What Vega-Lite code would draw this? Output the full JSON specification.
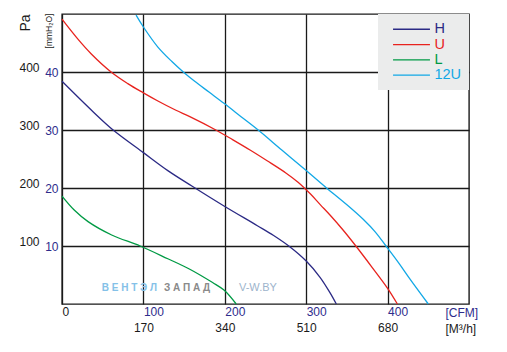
{
  "$schema": "https://vega.github.io/schema/vega-lite/v6.json",
  "width": 407,
  "height": 290,
  "autosize": {"type": "none"},
  "padding": {"left": 62, "top": 14, "right": 38, "bottom": 48},
  "background": "white",
  "config": {
    "font": "Liberation Sans",
    "view": {"stroke": "#1a1a1a", "strokeWidth": 1.4}
  },
  "datasets": {
    "curves": [
      {"model": "H", "cfm": 0, "pa": 384},
      {"model": "H", "cfm": 37.8, "pa": 332},
      {"model": "H", "cfm": 62.8, "pa": 300},
      {"model": "H", "cfm": 100, "pa": 261},
      {"model": "H", "cfm": 130, "pa": 230},
      {"model": "H", "cfm": 160, "pa": 203},
      {"model": "H", "cfm": 199, "pa": 169},
      {"model": "H", "cfm": 240, "pa": 135},
      {"model": "H", "cfm": 260, "pa": 118},
      {"model": "H", "cfm": 279, "pa": 99.5},
      {"model": "H", "cfm": 300, "pa": 74},
      {"model": "H", "cfm": 317, "pa": 46},
      {"model": "H", "cfm": 329, "pa": 20},
      {"model": "H", "cfm": 337, "pa": 0},
      {"model": "U", "cfm": 0, "pa": 491},
      {"model": "U", "cfm": 19.3, "pa": 457},
      {"model": "U", "cfm": 35.7, "pa": 431.5},
      {"model": "U", "cfm": 60.3, "pa": 400},
      {"model": "U", "cfm": 80.8, "pa": 380},
      {"model": "U", "cfm": 100, "pa": 364},
      {"model": "U", "cfm": 117.8, "pa": 350},
      {"model": "U", "cfm": 140, "pa": 334},
      {"model": "U", "cfm": 157, "pa": 323},
      {"model": "U", "cfm": 189, "pa": 300},
      {"model": "U", "cfm": 210, "pa": 283},
      {"model": "U", "cfm": 231, "pa": 265.5},
      {"model": "U", "cfm": 252, "pa": 247},
      {"model": "U", "cfm": 275, "pa": 226},
      {"model": "U", "cfm": 290, "pa": 210},
      {"model": "U", "cfm": 305, "pa": 190},
      {"model": "U", "cfm": 317.5, "pa": 171},
      {"model": "U", "cfm": 329.5, "pa": 153},
      {"model": "U", "cfm": 345, "pa": 128},
      {"model": "U", "cfm": 361, "pa": 100},
      {"model": "U", "cfm": 380, "pa": 65},
      {"model": "U", "cfm": 400, "pa": 27},
      {"model": "U", "cfm": 412, "pa": 0},
      {"model": "L", "cfm": 0, "pa": 186},
      {"model": "L", "cfm": 15, "pa": 162},
      {"model": "L", "cfm": 32, "pa": 142},
      {"model": "L", "cfm": 61, "pa": 119},
      {"model": "L", "cfm": 96, "pa": 100},
      {"model": "L", "cfm": 130, "pa": 78},
      {"model": "L", "cfm": 157, "pa": 60},
      {"model": "L", "cfm": 185, "pa": 37},
      {"model": "L", "cfm": 199, "pa": 24},
      {"model": "L", "cfm": 214, "pa": 0},
      {"model": "12U", "cfm": 91, "pa": 498},
      {"model": "12U", "cfm": 100, "pa": 477.6},
      {"model": "12U", "cfm": 117.8, "pa": 443},
      {"model": "12U", "cfm": 135, "pa": 418},
      {"model": "12U", "cfm": 149, "pa": 400},
      {"model": "12U", "cfm": 163, "pa": 384},
      {"model": "12U", "cfm": 181, "pa": 365},
      {"model": "12U", "cfm": 199, "pa": 346},
      {"model": "12U", "cfm": 220, "pa": 323},
      {"model": "12U", "cfm": 241, "pa": 300},
      {"model": "12U", "cfm": 270, "pa": 265.5},
      {"model": "12U", "cfm": 300, "pa": 230},
      {"model": "12U", "cfm": 325, "pa": 200},
      {"model": "12U", "cfm": 350, "pa": 171},
      {"model": "12U", "cfm": 370, "pa": 146},
      {"model": "12U", "cfm": 385, "pa": 124},
      {"model": "12U", "cfm": 398, "pa": 100},
      {"model": "12U", "cfm": 414, "pa": 70},
      {"model": "12U", "cfm": 428, "pa": 42},
      {"model": "12U", "cfm": 450, "pa": 0}
    ],
    "marks": [
      {"part": "a", "cfm": 48.8, "pa": 27.6, "label": "В Е Н Т Э Л"},
      {"part": "b", "cfm": 125.3, "pa": 27.6, "label": "З А П А Д"},
      {"part": "c", "cfm": 217.4, "pa": 27.6, "label": "V-W.BY"}
    ]
  },
  "layer": [
    {
      "data": {"name": "marks"},
      "transform": [{"filter": "datum.part == 'a'"}],
      "mark": {"type": "text", "align": "left", "baseline": "middle", "fontSize": 10, "fontWeight": "bold", "color": "#84c1e8"},
      "encoding": {
        "x": {
          "field": "cfm", "type": "quantitative",
          "scale": {"domain": [0, 500], "nice": false},
          "axis": {
            "orient": "bottom", "offset": 16, "values": [100, 200, 300, 400],
            "labelExpr": "format(datum.value * 1.7, 'd')",
            "grid": false, "domain": false, "ticks": false, "tickSize": 0,
            "labelPadding": 2, "labelFontSize": 12, "labelColor": "#1a1a1a", "labelAlign": "center",
            "title": "[M³/h]", "titleX": 383, "titleY": 3, "titleAlign": "left", "titleBaseline": "top",
            "titleAnchor": null, "titleFontSize": 12, "titleFontWeight": "normal", "titleColor": "#1a1a1a"
          }
        },
        "y": {
          "field": "pa", "type": "quantitative",
          "scale": {"domain": [0, 500], "nice": false},
          "axis": {
            "orient": "left", "offset": 22, "values": [100, 200, 300, 400],
            "grid": false, "domain": false, "ticks": false, "tickSize": 0,
            "labelPadding": 1, "labelOffset": -5, "labelFontSize": 12, "labelColor": "#1a1a1a",
            "title": "Pa", "titleX": -15, "titleY": 8.5, "titleAngle": -90, "titleAlign": "center", "titleBaseline": "middle",
            "titleFontSize": 14, "titleFontWeight": "normal", "titleColor": "#1a1a1a"
          }
        },
        "text": {"field": "label"}
      }
    },
    {
      "data": {"name": "marks"},
      "transform": [{"filter": "datum.part == 'b'"}],
      "mark": {"type": "text", "align": "left", "baseline": "middle", "fontSize": 10, "fontWeight": "bold", "color": "#8a8a8a"},
      "encoding": {
        "x": {"field": "cfm", "type": "quantitative", "scale": {"domain": [0, 500], "nice": false}, "axis": null},
        "y": {"field": "pa", "type": "quantitative", "scale": {"domain": [0, 500], "nice": false}, "axis": null},
        "text": {"field": "label"}
      }
    },
    {
      "data": {"name": "marks"},
      "transform": [{"filter": "datum.part == 'c'"}],
      "mark": {"type": "text", "align": "left", "baseline": "middle", "fontSize": 11, "color": "#9db4cc"},
      "encoding": {
        "x": {"field": "cfm", "type": "quantitative", "scale": {"domain": [0, 500], "nice": false}, "axis": null},
        "y": {"field": "pa", "type": "quantitative", "scale": {"domain": [0, 500], "nice": false}, "axis": null},
        "text": {"field": "label"}
      }
    },
    {
      "data": {"name": "curves"},
      "mark": {"type": "line", "interpolate": "catmull-rom", "strokeWidth": 1.3},
      "encoding": {
        "x": {
          "field": "cfm", "type": "quantitative",
          "scale": {"domain": [0, 500], "nice": false},
          "axis": {
            "orient": "bottom", "values": [0, 100, 200, 300, 400],
            "grid": true, "gridColor": "#1a1a1a", "gridOpacity": 1, "gridWidth": 1.3,
            "domain": false, "ticks": false, "tickSize": 0,
            "labelPadding": 2, "labelFontSize": 12, "labelAlign": "left",
            "labelColor": {"condition": {"test": "datum.value == 0", "value": "#1a1a1a"}, "value": "#2e2c8c"},
            "title": "[CFM]", "titleX": 383, "titleY": 3, "titleAlign": "left", "titleBaseline": "top",
            "titleAnchor": null, "titleFontSize": 12, "titleFontWeight": "normal", "titleColor": "#2e2c8c"
          }
        },
        "y": {
          "field": "pa", "type": "quantitative",
          "scale": {"domain": [0, 500], "nice": false},
          "axis": {
            "orient": "left", "values": [100, 200, 300, 400],
            "labelExpr": "format(datum.value / 10, 'd')",
            "grid": true, "gridColor": "#1a1a1a", "gridOpacity": 1, "gridWidth": 1.3,
            "domain": false, "ticks": false, "tickSize": 0,
            "labelPadding": 4, "labelFontSize": 12, "labelColor": "#2e2c8c",
            "title": "[mmH₂O]", "titleX": -13.5, "titleY": 16.5, "titleAngle": -90, "titleAlign": "center", "titleBaseline": "middle",
            "titleFontSize": 8.5, "titleFontWeight": "normal", "titleColor": "#1a1a1a"
          }
        },
        "color": {
          "field": "model", "type": "nominal",
          "scale": {"domain": ["H", "U", "L", "12U"], "range": ["#2b2a85", "#e8231e", "#009a44", "#12a8e6"]},
          "sort": ["H", "U", "L", "12U"],
          "legend": {
            "title": null, "orient": "top-right", "offset": 0, "padding": 8,
            "fillColor": "#ebecec", "strokeColor": null,
            "symbolType": "M-4.1,0H4.1", "symbolSize": 81, "symbolStrokeWidth": 1.3, "symbolOffset": 18.25,
            "labelOffset": 15.65, "labelFontSize": 14.5, "rowPadding": 0.3,
            "encode": {"labels": {"update": {"fill": {"scale": "color", "field": "value"}}}}
          }
        },
        "order": {"field": "cfm", "type": "quantitative"}
      }
    }
  ],
  "resolve": {"axis": {"x": "independent", "y": "independent"}}
}
